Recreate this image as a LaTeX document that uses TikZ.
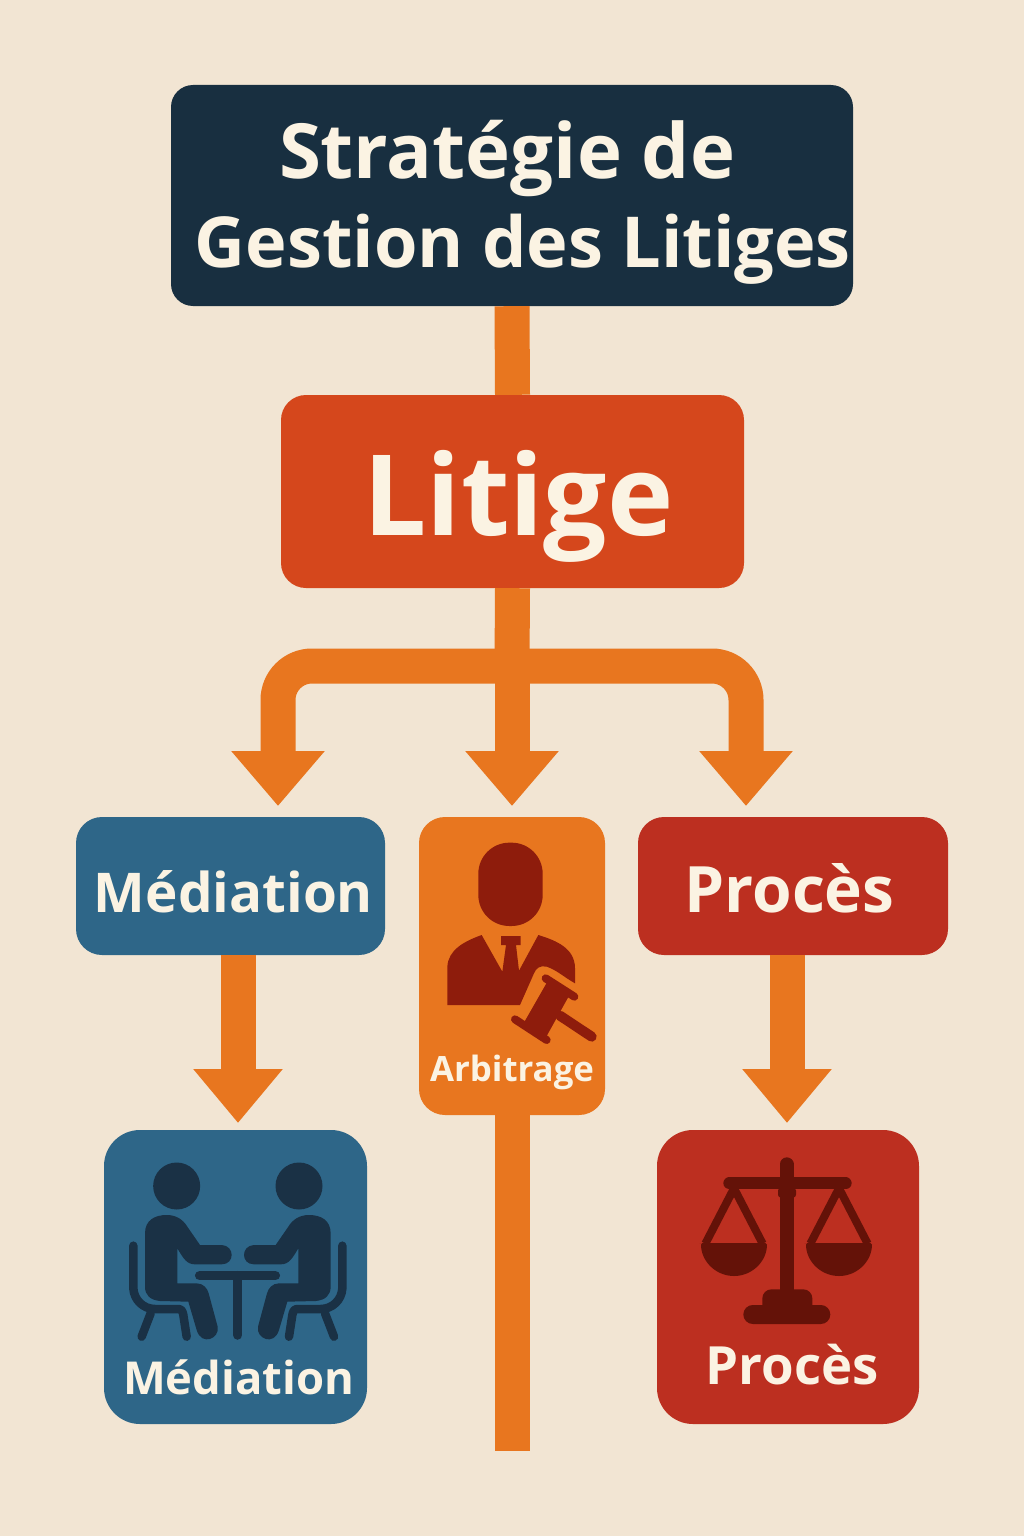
\documentclass[tikz,border=0pt]{standalone}
\usepackage{fontspec}
\usepackage{graphicx}
\usetikzlibrary{arrows.meta}
\setmainfont{Open Sans}
\definecolor{bgc}{HTML}{F2E5D3}
\definecolor{cream}{HTML}{FBF3E3}
\definecolor{navyc}{HTML}{182F40}
\definecolor{litc}{HTML}{D5471C}
\definecolor{bluec}{HTML}{2E6688}
\definecolor{orc}{HTML}{E8761F}
\definecolor{redc}{HTML}{BC2F20}
\definecolor{dkblue}{HTML}{1A3145}
\definecolor{dkred}{HTML}{8E1C0C}
\definecolor{dkmar}{HTML}{641208}
\newcommand{\fitw}[3]{\resizebox{#1pt}{!}{\fontsize{#2}{#2}\selectfont\bfseries #3}}
\tikzset{
  boxnode/.style={rectangle,draw=none,inner sep=0pt,rounded corners=#1},
  lab/.style={text=cream,anchor=base,inner sep=0pt,outer sep=0pt},
  flow/.style={draw=orc,line width=35pt},
  fat/.style={flow,-{Triangle[width=90pt,length=55pt]}},
  fatb/.style={flow,-{Triangle[width=86pt,length=54pt]}},
  ink/.style={line width=#1,line cap=round,line join=round},
}
\begin{document}
\begin{tikzpicture}[x=1pt,y=-1pt]
\useasboundingbox (0,0) rectangle (1024,1536);
\fill[bgc] (0,0) rectangle (1024,1536);
% boxes
\node[boxnode=22pt,fill=navyc,minimum width=682pt,minimum height=221pt] (title) at (512,195.5) {};
\node[boxnode=25pt,fill=litc,minimum width=463pt,minimum height=193pt] (litige) at (512.5,491.5) {};
\node[boxnode=26pt,fill=bluec,minimum width=309pt,minimum height=138pt] (med) at (230.5,886) {};
\node[boxnode=26pt,fill=orc,minimum width=186pt,minimum height=298pt] (arb) at (512,966) {};
\node[boxnode=26pt,fill=redc,minimum width=310pt,minimum height=138pt] (proc) at (793,886) {};
\node[boxnode=36pt,fill=bluec,minimum width=263pt,minimum height=294pt] (medicon) at (235.5,1277) {};
\node[boxnode=36pt,fill=redc,minimum width=262pt,minimum height=294pt] (procicon) at (788,1277) {};
% free ends
\coordinate (hub) at (512,666);
\coordinate (tipL) at (278,806);
\coordinate (tipC) at (512,806);
\coordinate (tipR) at (746,806);
\coordinate (tipM) at (238,1123);
\coordinate (tipP) at (787,1123);
\coordinate (arbend) at (512,1451);
% connectors
\draw[flow] (title.south) -- (litige.north);
\draw[flow] (litige.south) -- (hub);
\draw[fat] (hub) -- (tipC);
\draw[fat,rounded corners=34pt] (hub) -| (tipL);
\draw[fat,rounded corners=34pt] (hub) -| (tipR);
\draw[fatb] (med.south -| tipM) -- (tipM);
\draw[fatb] (proc.south -| tipP) -- (tipP);
\draw[flow] (arb.south) -- (arbend);
% text
\node[lab] (t1) at (507,178) {\fitw{456}{80}{Stratégie de}};
\node[lab] (t2) at (523,267) {\fitw{656}{80}{Gestion des Litiges}};
\node[lab] (t3) at (518.5,535) {\fitw{310}{124}{Litige}};
\node[lab] (t4) at (233.5,912) {\fitw{279}{60}{Médiation}};
\node[lab] (t5) at (789.5,912) {\fitw{210}{60}{Procès}};
\node[lab] (t6) at (512,1081) {\fitw{164}{36}{Arbitrage}};
\node[lab] (t7) at (238.5,1394) {\fitw{231}{50}{Médiation}};
\node[lab] (t8) at (792,1384) {\fitw{173}{50}{Procès}};
% judge icon
\begin{scope}[shift={(410,810)},x=0.33333pt,y=-0.33333pt]
\fill[dkred,rounded corners=31pt] (205,98) rectangle (398,348);
\fill[dkred,line join=round] (112,585) -- (112,470) .. controls (115,420) and (160,395) .. (215,375)
  -- (277,485) -- (288,405) -- (273,405) -- (273,378) -- (332,378) -- (332,405) -- (318,405)
  -- (327,482) -- (385,375) .. controls (440,392) and (495,415) .. (495,475) -- (495,520)
  .. controls (460,500) and (440,480) .. (410,470) .. controls (390,465) and (378,475) .. (372,490)
  -- (330,585) -- cycle;
\fill[dkred] (415,510) -- (480,552) -- (405,687) -- (339,643) -- cycle;
\draw[dkred,ink=8pt] (407,505) -- (493,560);
\draw[dkred,ink=8pt] (315,628) -- (410,690);
\draw[dkred,ink=10pt] (450,617) -- (545,680);
\end{scope}
% mediation icon
\newcommand{\personink}{%
  \fill[dkblue] (230,183) circle [radius=23.5pt];
  \fill[dkblue,line join=round] (135,325) .. controls (135,285) and (165,270) .. (200,270)
    .. controls (230,270) and (250,285) .. (262,305) -- (300,360) -- (365,360)
    .. controls (405,362) and (405,418) .. (365,418) -- (285,418) .. controls (260,418) and (250,400) .. (232,370)
    -- (232,475) -- (290,475) .. controls (310,475) and (322,490) .. (326,505)
    -- (353,605) .. controls (360,640) and (305,665) .. (290,615) -- (265,530) -- (180,528)
    .. controls (150,525) and (135,510) .. (135,485) -- cycle;
  \draw[dkblue,ink=8.5pt] (100,362) -- (100,490) .. controls (102,525) and (130,552) .. (165,552) -- (235,552)
    .. controls (245,552) and (248,560) .. (250,570) -- (260,635);
  \draw[dkblue,ink=8.5pt] (152,565) -- (125,635);
}
\begin{scope}[shift={(100,1125)},x=0.33333pt,y=-0.33333pt]
\personink
\draw[dkblue,ink=9.5pt] (299,452) -- (526,452);
\draw[dkblue,ink=9.5pt] (413,452) -- (413,630);
\end{scope}
\begin{scope}[shift={(375.67,1125)},x=-0.33333pt,y=-0.33333pt]
\personink
\end{scope}
% scales icon
\newcommand{\panink}[1]{%
  \draw[dkmar,ink=8pt,line cap=butt] (#1,190) -- ++(-86,166);
  \draw[dkmar,ink=8pt,line cap=butt] (#1,190) -- ++(86,166);
  \fill[dkmar,rounded corners=1.5pt] (#1,350) ++(-99,4) -- ++(198,0) arc[start angle=0,end angle=-180,radius=33pt] -- cycle;
}
\begin{scope}[shift={(650,1125)},x=0.33333pt,y=-0.33333pt]
\draw[dkmar,ink=14pt] (410,118) -- (410,500);
\draw[dkmar,ink=12pt] (238,175) -- (587,175);
\fill[dkmar,rounded corners=3pt] (384,188) rectangle (438,218);
\panink{252}
\panink{567}
\fill[dkmar,rounded corners=9pt] (337,493) rectangle (487,570);
\fill[dkmar,rounded corners=9.5pt] (280,540) rectangle (541,597);
\end{scope}
\end{tikzpicture}
\end{document}
